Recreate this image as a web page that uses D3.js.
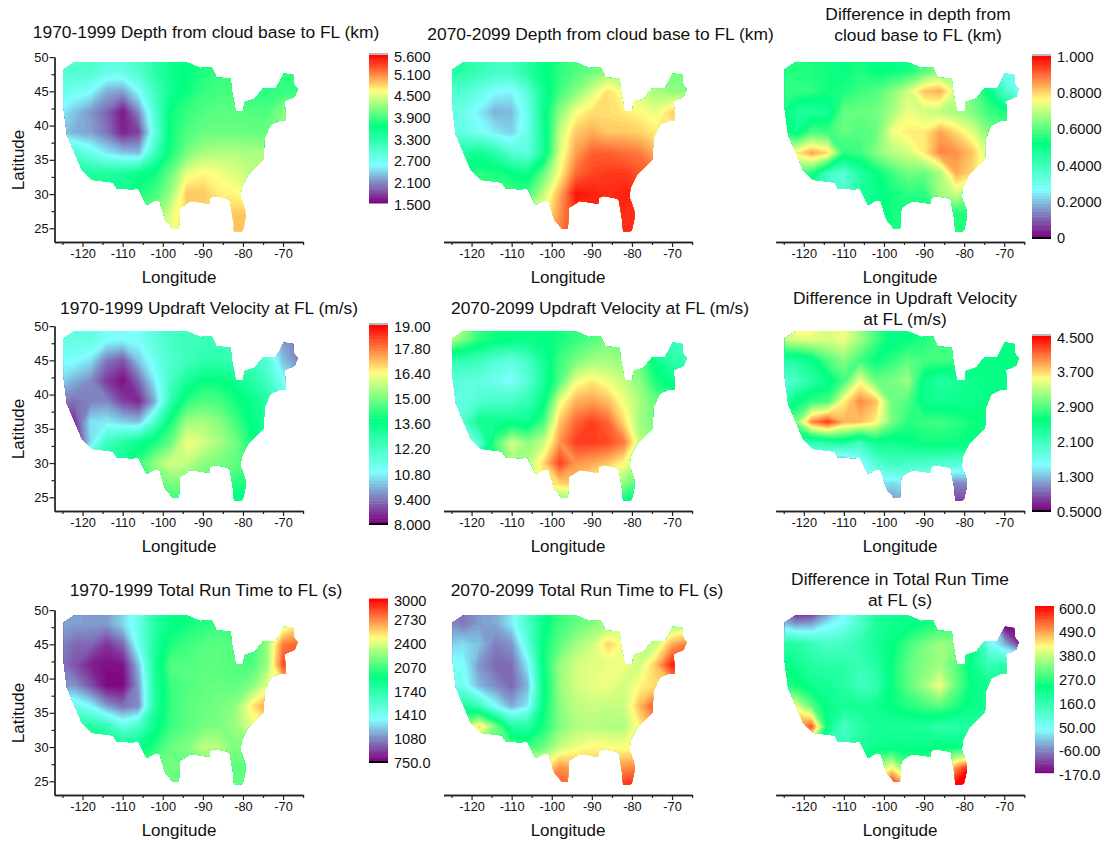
<!DOCTYPE html>
<html>
<head>
<meta charset="utf-8">
<script src="https://cdn.jsdelivr.net/npm/d3@7"></script>
<style>
  html, body { margin: 0; padding: 0; background: #fff; }
  text { font-family: "Liberation Sans", Arial, sans-serif; fill: #111; }
</style>
</head>
<body>
<svg id="chart" width="1104" height="841"></svg>
<script>
// grid the values were read on (rows run from north to south)
var gridLons = [-126,-122,-118,-114,-110,-106,-102,-98,-94,-90,-86,-82,-78,-74,-70,-66];
var gridLats = [51,48,45,42,39,36,33,30,27,24];

var outlineLons = [-124.7,-122.1,-94.0,-90.7,-87.8,-86.6,-83.1,-82.7,-81.8,-79.8,-79.7,-77.0,-75.0,-71.7,-69.8,-67.5,-67.3,-66.4,-67.1,-69.6,-69.3,-71.0,-73.2,-74.7,-74.8,-77.0,-78.7,-80.4,-80.6,-79.5,-79.3,-80.1,-82.2,-82.4,-83.3,-84.1,-87.0,-88.2,-88.4,-93.0,-95.7,-96.0,-97.4,-99.4,-100.8,-102.2,-104.0,-106.1,-107.3,-111.5,-112.3,-117.7,-120.2,-123.9,-124.7];
var outlineLats = [48.2,49.2,49.2,48.4,48.5,47.0,46.9,44.8,42.1,42.1,43.4,43.9,45.4,45.5,47.6,47.4,46.0,45.3,44.2,43.6,40.7,40.7,40.1,38.0,35.1,33.8,32.9,30.9,29.5,27.8,26.6,24.6,24.5,26.1,29.2,29.4,29.7,29.5,28.6,29.0,28.0,24.9,24.9,26.3,29.0,29.0,28.4,30.9,30.7,30.8,31.7,32.1,33.6,38.7,42.4];

var depth1970 = [
  [3.0,3.0,3.0,2.9,2.9,3.0,3.3,3.55,3.65,3.75,3.85,3.85,3.85,3.8,3.85,3.85],
  [3.0,3.0,3.0,2.8,2.8,3.0,3.3,3.55,3.65,3.75,3.85,3.85,3.85,3.8,3.85,3.85],
  [2.8,2.7,2.6,2.25,2.2,2.6,3.1,3.5,3.7,3.85,3.9,3.9,3.85,3.8,3.85,3.85],
  [2.55,2.35,2.15,1.95,1.6,2.1,2.95,3.7,3.85,3.95,4.0,4.0,3.95,3.95,4.2,4.2],
  [2.4,2.25,2.2,2.0,1.65,1.8,2.8,3.7,3.95,4.05,4.05,4.05,4.05,4.05,4.1,4.1],
  [3.0,3.0,2.75,2.5,2.35,2.3,3.1,3.75,4.1,4.3,4.35,4.35,4.3,4.3,4.3,4.3],
  [3.4,3.45,3.4,3.4,3.45,3.55,3.7,4.05,4.55,4.65,4.6,4.5,4.4,4.4,4.4,4.4],
  [3.5,3.5,3.5,3.5,3.5,3.75,3.9,4.25,4.85,4.85,4.7,4.65,4.6,4.6,4.6,4.6],
  [4.0,4.0,4.0,4.0,4.0,4.0,4.15,4.5,4.8,4.8,4.8,4.85,4.85,4.8,4.8,4.8],
  [4.5,4.5,4.5,4.5,4.5,4.5,4.5,4.6,4.8,4.8,4.8,4.85,4.85,4.8,4.8,4.8]
];
var depth2070 = [
  [3.4,3.35,3.2,3.1,3.1,3.35,3.6,3.8,3.95,4.05,4.2,4.2,4.2,4.1,4.1,4.1],
  [3.4,3.35,3.2,3.1,3.1,3.35,3.6,3.8,3.95,4.05,4.2,4.2,4.2,4.1,4.1,4.1],
  [3.05,2.95,2.8,2.6,2.55,2.9,3.5,3.9,4.15,4.45,4.75,4.55,4.4,4.3,4.2,4.2],
  [2.85,2.75,2.5,2.25,2.3,2.75,3.55,4.2,4.6,4.75,4.75,4.7,4.65,4.55,4.8,4.8],
  [2.9,2.8,2.65,2.5,2.4,2.75,3.5,4.4,4.85,4.95,4.85,4.85,4.8,4.7,4.7,4.7],
  [3.4,3.4,3.5,3.3,2.95,2.85,3.45,4.5,5.0,5.25,5.25,5.2,5.15,4.95,4.9,4.9],
  [3.8,3.75,3.8,3.75,3.65,3.55,4.05,4.65,5.2,5.35,5.4,5.4,5.3,5.2,5.2,5.2],
  [3.9,3.9,3.9,3.9,3.9,3.9,4.4,4.95,5.55,5.5,5.45,5.5,5.45,5.4,5.4,5.4],
  [4.4,4.4,4.4,4.4,4.4,4.4,4.6,5.05,5.4,5.45,5.45,5.45,5.45,5.4,5.4,5.4],
  [4.8,4.8,4.8,4.8,4.8,4.8,4.9,5.15,5.4,5.45,5.45,5.45,5.45,5.4,5.4,5.4]
];
var depthDiff = [
  [.56,.55,.55,.54,.53,.55,.52,.53,.54,.6,.65,.65,.55,.45,.3,.3],
  [.56,.55,.55,.54,.53,.55,.52,.53,.54,.6,.65,.65,.55,.45,.3,.3],
  [.58,.57,.57,.54,.55,.58,.6,.65,.72,.82,.84,.72,.62,.52,.37,.28],
  [.55,.47,.46,.48,.62,.62,.63,.68,.75,.72,.7,.68,.65,.58,.55,.55],
  [.58,.5,.6,.58,.62,.6,.62,.75,.78,.78,.85,.8,.74,.65,.62,.62],
  [.72,.78,.85,.8,.56,.58,.65,.7,.72,.78,.88,.87,.82,.72,.7,.7],
  [.6,.6,.55,.38,.34,.45,.52,.58,.63,.62,.68,.84,.8,.7,.7,.7],
  [.42,.42,.42,.42,.36,.46,.5,.54,.56,.56,.68,.72,.65,.6,.6,.6],
  [.5,.5,.5,.5,.5,.5,.5,.54,.55,.55,.55,.55,.55,.55,.55,.55],
  [.55,.55,.55,.55,.55,.55,.55,.55,.55,.55,.55,.55,.55,.55,.55,.55]
];
var updraft1970 = [
  [11.5,11.5,11.6,11.0,10.9,11.0,11.7,12.2,12.4,12.5,12.5,12.5,12.2,11.5,9.8,9.5],
  [11.5,11.5,11.6,11.0,10.9,11.0,11.7,12.2,12.4,12.5,12.5,12.5,12.2,11.5,9.8,9.5],
  [11.0,11.0,10.6,9.4,9.0,10.3,11.3,12.0,12.4,12.7,12.7,12.6,12.5,11.8,10.2,9.5],
  [10.5,10.0,9.6,8.7,8.2,9.2,10.7,12.3,13.2,13.8,13.8,13.5,13.0,12.3,11.0,10.5],
  [9.5,9.3,9.5,9.6,8.8,8.5,10.0,12.8,14.2,14.6,14.5,14.0,13.6,13.0,12.0,12.0],
  [8.5,8.6,10.6,10.7,10.4,10.2,12.0,14.0,15.4,15.5,15.2,14.5,13.7,13.2,13.0,13.0],
  [8.5,8.3,10.5,12.4,13.0,13.5,14.0,14.8,16.3,16.0,15.5,15.0,14.0,13.5,13.5,13.5],
  [12.5,12.5,12.5,12.8,13.2,14.4,15.3,16.0,15.8,15.2,15.0,14.8,14.5,14.5,14.5,14.5],
  [14.0,14.0,14.0,14.0,14.0,14.0,14.8,15.0,15.0,14.9,14.7,14.2,14.0,14.0,14.0,14.0],
  [14.0,14.0,14.0,14.0,14.0,14.0,14.0,14.3,14.2,14.2,14.0,13.5,13.5,13.5,13.5,13.5]
];
var updraft2070 = [
  [16.5,15.8,14.6,13.9,13.7,13.6,13.7,14.0,14.3,14.6,15.0,14.8,14.4,13.8,12.6,12.4],
  [16.0,15.0,14.2,13.9,13.7,13.6,13.7,14.0,14.3,14.6,15.0,14.8,14.4,13.8,12.6,12.4],
  [12.7,12.6,12.4,11.9,11.6,12.2,13.3,14.4,15.0,15.4,15.5,15.3,14.8,13.5,12.8,12.5],
  [11.8,11.7,11.6,11.3,11.0,11.8,13.2,14.6,16.2,16.6,16.2,15.8,15.2,14.0,13.5,13.4],
  [11.6,11.6,12.0,12.2,12.2,12.6,13.6,16.2,17.2,17.4,17.1,16.3,15.5,14.8,14.4,14.4],
  [11.5,12.0,13.5,13.4,13.5,13.4,14.5,17.0,18.0,18.4,18.0,16.8,15.4,15.0,15.0,15.0],
  [11.0,11.0,11.8,14.5,16.0,15.2,15.8,17.5,18.4,18.4,18.3,17.8,15.8,15.0,15.0,15.0],
  [14.0,14.0,14.0,14.0,15.5,15.6,16.8,18.4,17.5,17.3,17.0,16.4,15.5,15.5,15.5,15.5],
  [15.5,15.5,15.5,15.5,15.5,15.5,16.5,16.8,17.0,16.5,16.0,15.2,14.5,14.5,14.5,14.5],
  [15.0,15.0,15.0,15.0,15.0,15.0,15.0,14.8,15.0,15.0,14.5,13.5,13.5,13.5,13.5,13.5]
];
var updraftDiff = [
  [3.3,3.8,3.8,3.4,3.5,3.2,2.85,2.55,2.6,2.7,2.85,2.85,2.7,2.6,2.55,2.55],
  [3.3,3.4,3.45,3.4,3.5,3.2,2.85,2.55,2.6,2.7,2.85,2.85,2.7,2.6,2.55,2.55],
  [2.35,2.35,2.5,2.9,3.1,2.85,2.6,2.75,2.95,2.85,2.85,2.8,2.55,2.55,2.6,2.6],
  [1.9,2.0,2.3,2.5,2.85,3.5,3.0,3.05,3.2,2.5,2.3,2.4,2.5,2.55,2.55,2.55],
  [2.2,2.55,2.8,2.85,3.6,4.0,3.8,3.0,2.9,2.5,2.45,2.5,2.5,2.6,2.6,2.6],
  [3.0,3.05,4.0,4.3,3.85,3.8,3.6,3.05,2.75,2.8,2.85,2.75,2.65,2.6,2.6,2.6],
  [2.3,2.3,2.2,2.3,2.4,2.1,2.5,2.45,2.55,2.65,2.65,2.65,2.55,2.5,2.5,2.5],
  [1.4,1.4,1.4,1.2,1.0,1.5,1.9,2.1,2.05,2.0,1.95,1.9,2.0,2.0,2.0,2.0],
  [1.5,1.5,1.5,1.5,1.5,1.5,1.5,1.4,1.5,1.5,1.4,1.05,1.1,1.1,1.1,1.1],
  [1.2,1.2,1.2,1.2,1.2,1.2,1.2,1.1,1.2,1.2,1.0,.75,.8,.8,.8,.8]
];
var runTime1970 = [
  [1130,1130,1120,1120,1250,1450,1750,1900,1950,2000,2050,2050,2050,2050,2350,2500],
  [1130,1130,1120,1120,1250,1450,1750,1900,1950,2000,2050,2050,2050,2050,2350,2500],
  [1080,1000,1000,880,1000,1420,1800,1990,2060,2100,2120,2100,2050,2250,2750,2800],
  [1050,950,830,790,800,1200,1820,2100,2100,2120,2120,2100,2080,2250,2850,2850],
  [1120,1100,950,780,770,1120,1780,2050,2100,2130,2150,2130,2200,2400,2500,2500],
  [1500,1450,1340,1120,1020,1080,1780,2040,2120,2150,2170,2230,2500,2680,2680,2680],
  [1800,1800,1780,1700,1480,1600,1880,2050,2120,2170,2200,2250,2400,2500,2500,2500],
  [1900,1900,1900,1900,1900,1880,2000,2150,2200,2330,2320,2200,2200,2200,2200,2200],
  [2100,2100,2100,2100,2100,2100,2150,2170,2150,2150,2150,2130,2130,2130,2130,2130],
  [2150,2150,2150,2150,2150,2150,2150,2150,2150,2150,2150,2150,2150,2150,2150,2150]
];
var runTime2070 = [
  [1100,1030,1120,1150,1300,1600,1880,2060,2130,2200,2280,2350,2300,2250,2250,2300],
  [1100,1030,1120,1150,1300,1600,1880,2060,2130,2200,2280,2350,2300,2250,2250,2300],
  [1240,1270,1200,1050,1100,1500,1950,2130,2270,2360,2560,2450,2330,2350,2650,2750],
  [1400,1350,1100,1000,1010,1300,1950,2250,2370,2410,2420,2430,2370,2600,2950,3000],
  [1450,1400,1170,1080,1000,1180,1900,2250,2370,2420,2440,2380,2480,2550,2600,2600],
  [1750,1800,1650,1350,1150,1300,1930,2220,2330,2360,2340,2350,2620,2850,2900,2900],
  [2100,2250,2550,2200,1800,1750,1980,2200,2300,2320,2300,2300,2500,2700,2700,2700],
  [2100,2100,2100,2100,2100,2050,2150,2350,2430,2480,2470,2450,2450,2450,2450,2450],
  [2500,2500,2500,2500,2500,2500,2500,2700,2650,2600,2650,2700,2750,2750,2750,2750],
  [2800,2800,2800,2800,2800,2800,2800,2850,2800,2800,2800,2950,2950,2950,2950,2950]
];
var runTimeDiff = [
  [-100,-200,-200,-100,0,110,190,210,220,240,260,270,240,130,-170,-170],
  [0,-50,-40,20,50,110,190,210,220,240,260,270,240,130,-170,-170],
  [190,180,150,120,130,160,200,230,280,320,350,330,250,60,-20,-130],
  [240,210,180,170,170,150,180,240,300,330,350,300,210,150,170,170],
  [250,250,210,200,180,130,150,240,300,350,410,310,230,210,200,200],
  [360,400,300,220,200,200,210,240,260,280,300,260,220,210,210,210],
  [500,500,540,220,120,170,200,190,190,190,160,170,190,190,190,190],
  [300,300,300,150,150,190,210,220,220,220,230,230,230,230,230,230],
  [250,250,250,250,250,250,350,420,300,300,350,500,600,600,600,600],
  [500,500,500,500,500,500,500,620,500,500,500,640,640,640,640,640]
];

// colour bar levels and tick labels
var colorStops = [0,.26,.52,.76,1];
var colorList = ["#800080","#80ffff","#00ff80","#ffff80","#ff0000"];
var depthTicks = [5.6,5.1,4.5,3.9,3.3,2.7,2.1,1.5];
var depthLabels = ["5.600","5.100","4.500","3.900","3.300","2.700","2.100","1.500"];
var depthDiffTicks = [1,.8,.6,.4,.2,0];
var depthDiffLabels = ["1.000","0.8000","0.6000","0.4000","0.2000","0"];
var updraftTicks = [19,17.8,16.4,15,13.6,12.2,10.8,9.4,8];
var updraftLabels = ["19.00","17.80","16.40","15.00","13.60","12.20","10.80","9.400","8.000"];
var updraftDiffTicks = [4.5,3.7,2.9,2.1,1.3,.5];
var updraftDiffLabels = ["4.500","3.700","2.900","2.100","1.300","0.5000"];
var runTicks = [3000,2730,2400,2070,1740,1410,1080,750];
var runLabels = ["3000","2730","2400","2070","1740","1410","1080","750.0"];
var runDiffTicks = [600,490,380,270,160,50,-60,-170];
var runDiffLabels = ["600.0","490.0","380.0","270.0","160.0","50.00","-60.00","-170.0"];

var lonMajor = [-120,-110,-100,-90,-80,-70];
var lonMinor = [-125,-115,-105,-95,-85,-75,-65];
var latMajor = [50,45,40,35,30,25];
var latMinor = [47.5,42.5,37.5,32.5,27.5];

var svg = d3.select("#chart");
var panelW = 248.6;  // -127 to -65
var colLeft = [54.5,443.5,775.7];
var rowBottom = [242,511,795];
var panelH = 184.9;  // 23 to 50

// one heat map with its axes
function drawPanel(id, col, row, values, domain, yAxisOn) {
  var left = colLeft[col], bottom = rowBottom[row];
  var x = d3.scaleLinear().domain([-127,-65]).range([left, left + panelW]);
  var y = d3.scaleLinear().domain([23,50]).range([bottom, bottom - panelH]);
  var color = colorScale(domain);

  var outline = d3.line().x(function(d) { return x(d[0]); }).y(function(d) { return y(d[1]); }).curve(d3.curveLinearClosed);
  var clipId = "clip" + id;
  svg.append("clipPath").attr("id", clipId).append("path")
    .attr("d", outline(d3.zip(outlineLons, outlineLats)));

  var n = gridLons.length, m = gridLats.length;
  var gx = d3.scaleLinear().domain([0.5, n - 0.5]).range([x(gridLons[0]), x(gridLons[n - 1])]);
  var gy = d3.scaleLinear().domain([0.5, m - 0.5]).range([y(gridLats[0]), y(gridLats[m - 1])]);
  var path = d3.geoPath(d3.geoTransform({ point: function(a, b) { this.stream.point(gx(a), gy(b)); } }));

  var levels = d3.range(0, 121).map(function(i) { return domain[0] + (domain[1] - domain[0]) * i / 120; });
  var bands = d3.contours().size([n, m]).thresholds(levels)(d3.merge(values));

  var g = svg.append("g").attr("clip-path", "url(#" + clipId + ")");
  g.append("rect").attr("x", left).attr("y", bottom - panelH).attr("width", panelW).attr("height", panelH).attr("fill", color(domain[0]));
  g.selectAll("path").data(bands).enter().append("path")
    .attr("d", path)
    .attr("fill", function(d) { return color(d.value); });

  var xg = svg.append("g").attr("transform", "translate(0," + bottom + ")");
  xg.call(d3.axisBottom(x).tickValues(lonMajor).tickSize(5).tickSizeOuter(0).tickFormat(function(d) { return String(d); }));
  xg.append("g").call(d3.axisBottom(x).tickValues(lonMinor).tickSize(3).tickSizeOuter(0).tickFormat(""));
  styleAxis(xg);
  xg.selectAll(".tick text").attr("y", 7).style("font-size", "12.8px");

  if (yAxisOn) {
    var yg = svg.append("g").attr("transform", "translate(" + left + ",0)");
    yg.call(d3.axisLeft(y).tickValues(latMajor).tickSize(5).tickSizeOuter(0));
    yg.append("g").call(d3.axisLeft(y).tickValues(latMinor).tickSize(3).tickSizeOuter(0).tickFormat(""));
    styleAxis(yg);
    yg.selectAll(".tick text").attr("x", -6).style("font-size", "12.8px");

    svg.append("text").attr("transform", "translate(18," + (bottom - 82) + ") rotate(-90)")
      .attr("text-anchor", "middle").attr("dominant-baseline", "central").style("font-size", "17px").text("Latitude");
  }

  svg.append("text").attr("x", left + 124.5).attr("y", bottom + 35)
    .attr("text-anchor", "middle").attr("dominant-baseline", "central").style("font-size", "17px").text("Longitude");
}

function styleAxis(sel) {
  sel.selectAll(".domain").attr("stroke", "#222").attr("stroke-width", 1.3);
  sel.selectAll(".tick line").attr("stroke", "#222").attr("stroke-width", 1.2);
  sel.selectAll("text").attr("fill", "#111").style("font-family", '"Liberation Sans", Arial, sans-serif');
}

function colorScale(domain) {
  return d3.scaleLinear()
    .domain(colorStops.map(function(s) { return domain[0] + (domain[1] - domain[0]) * s; }))
    .range(colorList).clamp(true);
}

function drawLegend(left, top, bottom, domain, ticks, labels, labelX, labelDy, topCap, bottomCap) {
  var color = colorScale(domain);
  var y = d3.scaleLinear().domain(domain).range([bottom, top]);
  var steps = d3.range(0, 70);
  var barW = 19;
  svg.append("g").selectAll("rect").data(steps).enter().append("rect")
    .attr("x", left).attr("width", barW)
    .attr("y", function(i) { return y(domain[0] + (domain[1] - domain[0]) * (i + 1) / 70); })
    .attr("height", (bottom - top) / 70 + 0.5)
    .attr("fill", function(i) { return color(domain[0] + (domain[1] - domain[0]) * (i + 0.5) / 70); });
  if (topCap) svg.append("rect").attr("x", left).attr("y", top - 2).attr("width", barW).attr("height", 2).attr("fill", "#b8b8b8");
  if (bottomCap) svg.append("rect").attr("x", left).attr("y", bottom).attr("width", barW).attr("height", 2).attr("fill", "#000");

  svg.append("g").selectAll("text").data(ticks).enter().append("text")
    .attr("x", labelX)
    .attr("y", function(d) { return y(d) + labelDy; })
    .attr("dominant-baseline", "central")
    .style("font-size", "14.6px")
    .text(function(d, i) { return labels[i]; });
}

function drawTitle(cx, lines) {
  lines.forEach(function(l) {
    svg.append("text").attr("x", cx).attr("y", l[1])
      .attr("text-anchor", "middle").attr("dominant-baseline", "central")
      .style("font-size", "17.4px").text(l[0]);
  });
}

var depthDomain = [1.5,5.6], updraftDomain = [8,19], runDomain = [750,3000];

drawPanel("a", 0, 0, depth1970, depthDomain, true);
drawPanel("b", 1, 0, depth2070, depthDomain, false);
drawPanel("c", 2, 0, depthDiff, [0,1], false);
drawPanel("d", 0, 1, updraft1970, updraftDomain, true);
drawPanel("e", 1, 1, updraft2070, updraftDomain, false);
drawPanel("f", 2, 1, updraftDiff, [.5,4.5], false);
drawPanel("g", 0, 2, runTime1970, runDomain, true);
drawPanel("h", 1, 2, runTime2070, runDomain, false);
drawPanel("i", 2, 2, runTimeDiff, [-170,600], false);

drawLegend(369, 55, 203, depthDomain, depthTicks, depthLabels, 394, 1.5, true, false);
drawLegend(1032, 56, 237, [0,1], depthDiffTicks, depthDiffLabels, 1057, 1, true, true);
drawLegend(369, 325, 523, updraftDomain, updraftTicks, updraftLabels, 394, 2, true, true);
drawLegend(1032, 336, 510, [.5,4.5], updraftDiffTicks, updraftDiffLabels, 1057, 1.5, true, true);
drawLegend(369, 598.5, 761, runDomain, runTicks, runLabels, 394, 2, false, true);
drawLegend(1035, 606, 772.7, [-170,600], runDiffTicks, runDiffLabels, 1059, 2.5, false, false);

drawTitle(206, [["1970-1999 Depth from cloud base to FL (km)", 32]]);
drawTitle(600.5, [["2070-2099 Depth from cloud base to FL (km)", 34]]);
drawTitle(918, [["Difference in depth from", 14], ["cloud base to FL (km)", 35]]);
drawTitle(209, [["1970-1999 Updraft Velocity at FL (m/s)", 308]]);
drawTitle(600, [["2070-2099 Updraft Velocity at FL (m/s)", 308]]);
drawTitle(905, [["Difference in Updraft Velocity", 298], ["at FL (m/s)", 319]]);
drawTitle(206, [["1970-1999 Total Run Time to FL (s)", 590]]);
drawTitle(587, [["2070-2099 Total Run Time to FL (s)", 590]]);
drawTitle(900, [["Difference in Total Run Time", 579], ["at FL (s)", 600]]);
</script>
</body>
</html>
